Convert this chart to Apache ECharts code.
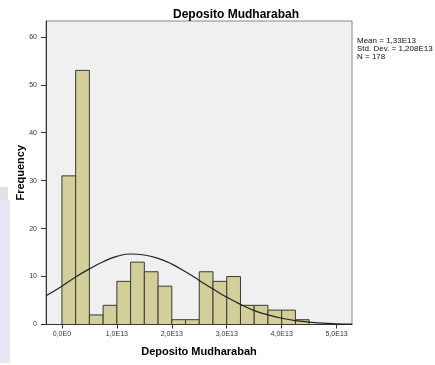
<!DOCTYPE html>
<html>
<head>
<meta charset="utf-8">
<script src="https://cdn.jsdelivr.net/npm/echarts@6/dist/echarts.min.js"></script>
<style>html,body{margin:0;padding:0;background:#fff}#c{width:435px;height:365px}</style>
</head>
<body>
<div id="c"></div>
<script>
// Histogram bins (values in units of 1E13)
const binStarts = [0, 0.25, 0.5, 0.75, 1.0, 1.25, 1.5, 1.75, 2.0, 2.25, 2.5, 2.75, 3.0, 3.25, 3.5, 3.75, 4.0, 4.25];
const binWidth = 0.25;
const counts = [31, 53, 2, 4, 9, 13, 11, 8, 1, 1, 11, 9, 10, 4, 4, 3, 3, 1];
// Normal curve
const curveX = [-0.29, 0, 0.25, 0.5, 0.75, 1.0, 1.25, 1.5, 1.75, 2.0, 2.25, 2.5, 2.75, 3.0, 3.25, 3.5, 3.75, 4.0, 4.25, 4.5, 4.75, 5.0, 5.28];
const curveY = [6.0, 8.0, 9.9, 11.6, 13.1, 14.2, 14.7, 14.5, 13.8, 12.6, 11.0, 9.2, 7.4, 5.7, 4.2, 2.9, 2.0, 1.3, 0.8, 0.5, 0.27, 0.15, 0.07];
// Axis ticks
const xTickValues = [0, 1, 2, 3, 4, 5];
const xTickLabels = ["0,0E0", "1,0E13", "2,0E13", "3,0E13", "4,0E13", "5,0E13"];
const yTickValues = [0, 10, 20, 30, 40, 50, 60];
const statsLines = ["Mean = 1,33E13", "Std. Dev. = 1,208E13", "N = 178"];

const FONT = '"Liberation Sans", Arial, sans-serif';
const chart = echarts.init(document.getElementById('c'), null, {renderer: 'canvas'});
const barData = binStarts.map((s, i) => [s, s + binWidth, counts[i]]);
const lineData = curveX.map((x, i) => [x, curveY[i]]);

chart.setOption({
  animation: false,
  title: {
    text: 'Deposito Mudharabah',
    left: 168, top: 4,
    textStyle: {fontFamily: FONT, fontSize: 12, fontWeight: 'bold', color: '#000'}
  },
  grid: {
    left: 46, top: 21, width: 306, height: 303.5,
    show: true, backgroundColor: '#f0f0f0', borderColor: '#888', borderWidth: 1
  },
  xAxis: {
    type: 'value', min: -0.29, max: 5.28,
    name: 'Deposito Mudharabah', nameLocation: 'middle', nameGap: 22, nameMoveOverlap: false,
    nameTextStyle: {fontFamily: FONT, fontSize: 11, fontWeight: 'bold', color: '#000'},
    splitLine: {show: false},
    axisLine: {show: true, onZero: false, lineStyle: {color: '#333', width: 1}},
    axisTick: {show: true, length: 4, customValues: xTickValues, lineStyle: {color: '#333'}},
    axisLabel: {
      customValues: xTickValues, margin: 6,
      fontFamily: FONT, fontSize: 7, color: '#333',
      formatter: v => xTickLabels[xTickValues.indexOf(Math.round(v))] || ''
    }
  },
  yAxis: {
    type: 'value', min: 0, max: 63.3,
    name: 'Frequency', nameLocation: 'middle', nameGap: 20, nameMoveOverlap: false,
    nameTextStyle: {fontFamily: FONT, fontSize: 11, fontWeight: 'bold', color: '#000'},
    splitLine: {show: false},
    axisLine: {show: true, onZero: false, lineStyle: {color: '#333', width: 1}},
    axisTick: {show: true, length: 5, customValues: yTickValues, lineStyle: {color: '#333'}},
    axisLabel: {customValues: yTickValues, margin: 9, fontFamily: FONT, fontSize: 7, color: '#333'}
  },
  graphic: [
    {type: 'rect', shape: {x: 0, y: 187, width: 8, height: 13}, style: {fill: '#e2e2e4'}, silent: true},
    {type: 'rect', shape: {x: 0, y: 200, width: 10, height: 163}, style: {fill: '#e6e6f6'}, silent: true},
    {type: 'text', left: 357, top: 37,
     style: {text: statsLines.join('\n'), font: '8px ' + FONT, lineHeight: 7.8, fill: '#111'}}
  ],
  series: [
    {
      type: 'custom',
      data: barData,
      encode: {x: [0, 1], y: 2},
      renderItem: function (params, api) {
        const p0 = api.coord([api.value(0), api.value(2)]);
        const p1 = api.coord([api.value(1), 0]);
        return {
          type: 'rect',
          shape: {x: p0[0], y: p0[1], width: p1[0] - p0[0], height: p1[1] - p0[1]},
          style: {fill: '#d3cf9a', stroke: '#3a3a34', lineWidth: 1}
        };
      },
      z: 2
    },
    {
      type: 'line', data: lineData, smooth: true, showSymbol: false,
      lineStyle: {color: '#222', width: 1.2}, clip: true, z: 3
    }
  ]
});
</script>
</body>
</html>
